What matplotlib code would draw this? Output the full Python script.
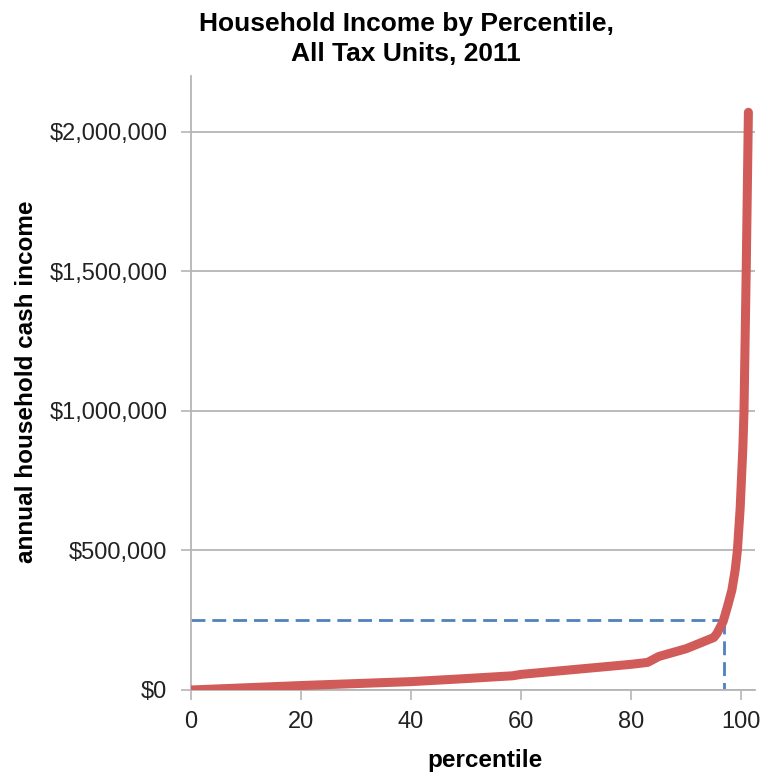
import matplotlib.pyplot as plt
from matplotlib.ticker import FuncFormatter

plt.rcParams['font.family'] = ['Liberation Sans', 'DejaVu Sans']

# percentile vs annual household cash income
percentile = [0, 5, 10, 20, 30, 40, 50, 58.5, 60, 65, 70, 75, 80, 83, 85, 90, 95, 95.6,
              96.7, 97.5, 98.3, 98.9, 99.3, 99.8, 100.3, 100.5, 100.9, 101.3]
income = [0, 4000, 8000, 16000, 23000, 30000, 41000, 51000, 56000, 65000, 74000, 83000,
          92000, 99000, 120000, 148000, 188000, 203000,
          245000, 299000, 358000, 430000, 500000, 650000, 871000, 1000000, 1500000, 2070000]

ref_income = 250000
ref_pct = 96.8

yticks = [0, 500000, 1000000, 1500000, 2000000]
xticks = [0, 20, 40, 60, 80, 100]

fig = plt.figure(figsize=(7.69, 7.72), dpi=100)
ax = fig.add_axes([191 / 769, 82 / 772, 564 / 769, 614 / 772])

ax.plot(percentile, income, color='#d05b58', lw=6.5, solid_capstyle='round',
        solid_joinstyle='round', zorder=3)
ax.plot([0, ref_pct], [ref_income, ref_income], color='#4f81bd', lw=2,
        dashes=(5, 2.5), zorder=2)
ax.plot([ref_pct, ref_pct], [ref_income, 0], color='#4f81bd', lw=2,
        dashes=(5, 2.5), zorder=2)

ax.set_xlim(0, 102.5)
ax.set_ylim(0, 2200000)
ax.set_xticks(xticks)
ax.set_yticks(yticks)
ax.yaxis.set_major_formatter(FuncFormatter(lambda v, p: '${:,.0f}'.format(v)))
ax.grid(axis='y', color='#b5b5b5', lw=1.3)
ax.set_axisbelow(True)

for s in ['top', 'right']:
    ax.spines[s].set_visible(False)
for s in ['left', 'bottom']:
    ax.spines[s].set_color('#b5b5b5')
    ax.spines[s].set_linewidth(1.3)
ax.tick_params(axis='both', colors='#b5b5b5', labelcolor='#222222', labelsize=17,
               length=7, width=1.2)
ax.tick_params(axis='y', pad=10)
ax.tick_params(axis='x', pad=8)

fig.text(406 / 769, 1 - 39 / 772, 'Household Income by Percentile,\nAll Tax Units, 2011',
         ha='center', va='center', fontsize=19, fontweight='bold', linespacing=1.35)
fig.text(485 / 769, 1 - 761 / 772, 'percentile', ha='center', va='center',
         fontsize=17.5, fontweight='bold')
fig.text(27 / 769, 1 - 382 / 772, 'annual household cash income', ha='center',
         va='center', rotation=90, fontsize=17.5, fontweight='bold')

fig.savefig('out.png', dpi=100)
